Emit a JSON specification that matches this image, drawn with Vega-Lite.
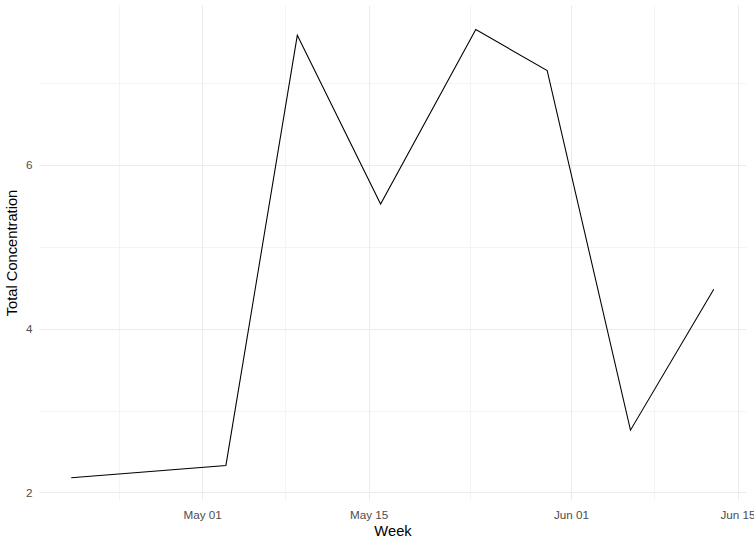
{
  "$schema": "https://vega.github.io/schema/vega-lite/v6.json",
  "width": 707,
  "height": 495,
  "autosize": {"type": "none"},
  "padding": {"left": 39, "top": 5, "right": 8, "bottom": 46},
  "background": "white",
  "config": {
    "view": {"stroke": null},
    "font": "Liberation Sans",
    "axis": {
      "domain": false,
      "ticks": false,
      "gridColor": "#ebebeb",
      "labelColor": "#4d4d4d",
      "labelFontSize": 11.7,
      "labelFont": "Liberation Sans",
      "titleFont": "Liberation Sans",
      "titleFontSize": 14.7,
      "titleFontWeight": "normal",
      "titleColor": "black"
    }
  },
  "data": {
    "values": [
      {"week": "2023-04-20", "total": 2.18},
      {"week": "2023-05-03", "total": 2.33},
      {"week": "2023-05-09", "total": 7.58},
      {"week": "2023-05-16", "total": 5.52},
      {"week": "2023-05-24", "total": 7.65},
      {"week": "2023-05-30", "total": 7.15},
      {"week": "2023-06-06", "total": 2.76},
      {"week": "2023-06-13", "total": 4.48}
    ]
  },
  "layer": [
    {
      "mark": {"type": "rule", "opacity": 0},
      "encoding": {
        "x": {
          "field": "week", "type": "temporal",
          "scale": {"type": "utc", "domain": [{"year": 2023, "month": "apr", "date": 17, "hours": 7, "utc": true}, {"year": 2023, "month": "jun", "date": 15, "hours": 17, "utc": true}]},
          "axis": {
            "orient": "top", "grid": true,
            "title": null, "labels": false, "gridWidth": 0.53,
            "values": [
              {"year": 2023, "month": "apr", "date": 24, "utc": true},
              {"year": 2023, "month": "may", "date": 8, "utc": true},
              {"year": 2023, "month": "may", "date": 23, "hours": 12, "utc": true},
              {"year": 2023, "month": "jun", "date": 8, "utc": true}
            ]
          }
        },
        "y": {
          "field": "total", "type": "quantitative",
          "scale": {"domain": [1.908, 7.95], "nice": false, "zero": false},
          "axis": {"orient": "right", "grid": true, "title": null, "labels": false, "gridWidth": 0.53, "values": [3, 5, 7]}
        }
      }
    },
    {
      "mark": {"type": "line", "color": "black", "strokeWidth": 1.07},
      "encoding": {
        "x": {
          "field": "week", "type": "temporal",
          "axis": {
            "orient": "bottom", "grid": true,
            "title": "Week", "format": "%b %d", "gridWidth": 1.07,
            "labelPadding": 9, "titlePadding": 3,
            "values": [
              {"year": 2023, "month": "may", "date": 1, "utc": true},
              {"year": 2023, "month": "may", "date": 15, "utc": true},
              {"year": 2023, "month": "jun", "date": 1, "utc": true},
              {"year": 2023, "month": "jun", "date": 15, "utc": true}
            ]
          }
        },
        "y": {
          "field": "total", "type": "quantitative",
          "axis": {"orient": "left", "grid": true, "title": "Total Concentration", "gridWidth": 1.07, "values": [2, 4, 6], "labelPadding": 7, "titlePadding": 6}
        }
      }
    }
  ],
  "resolve": {"axis": {"x": "independent", "y": "independent"}}
}
